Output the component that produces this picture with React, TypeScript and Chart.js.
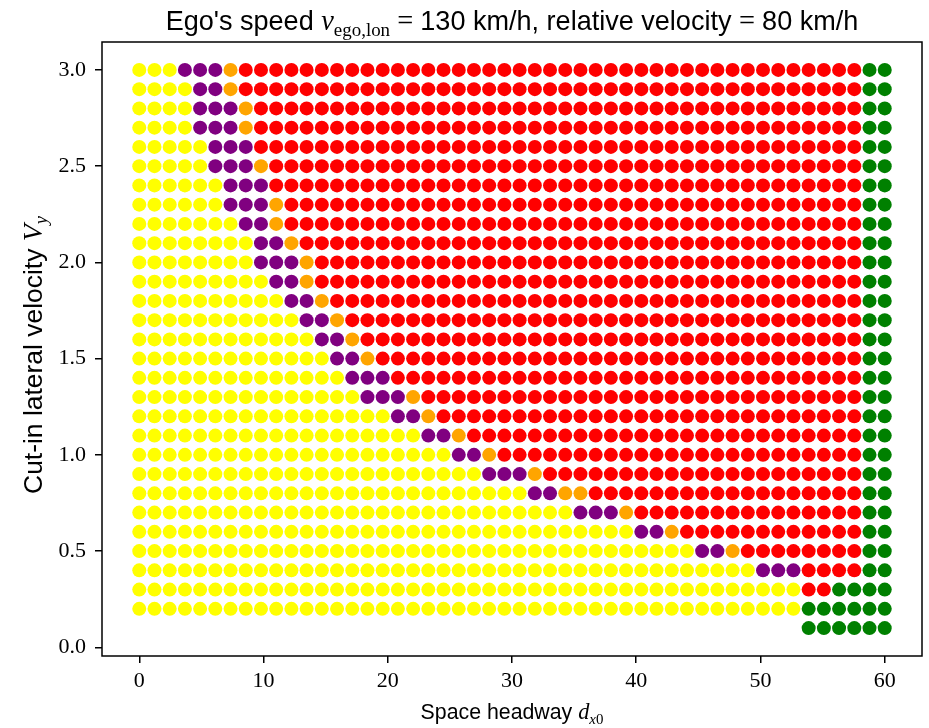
import React, { useEffect, useRef } from "react";
import { Chart, registerables } from "chart.js";

Chart.register(...registerables);

// Grid of space headway values (columns), d_x0
const xGrid = [
  0, 1.224, 2.449, 3.673, 4.898, 6.122, 7.347, 8.571, 9.796, 11.02,
  12.245, 13.469, 14.694, 15.918, 17.143, 18.367, 19.592, 20.816, 22.041, 23.265,
  24.49, 25.714, 26.939, 28.163, 29.388, 30.612, 31.837, 33.061, 34.286, 35.51,
  36.735, 37.959, 39.184, 40.408, 41.633, 42.857, 44.082, 45.306, 46.531, 47.755,
  48.98, 50.204, 51.429, 52.653, 53.878, 55.102, 56.327, 57.551, 58.776, 60,
];

// Cut-in lateral velocity rows, top to bottom
const yRows = [
  3.0, 2.9, 2.8, 2.7, 2.6, 2.5, 2.4, 2.3, 2.2, 2.1,
  2.0, 1.9, 1.8, 1.7, 1.6, 1.5, 1.4, 1.3, 1.2, 1.1,
  1.0, 0.9, 0.8, 0.7, 0.6, 0.5, 0.4, 0.3, 0.2, 0.1,
];

// Per row: number of points of each outcome, left to right
const nBlank = [
  0, 0, 0, 0, 0, 0, 0, 0, 0, 0,
  0, 0, 0, 0, 0, 0, 0, 0, 0, 0,
  0, 0, 0, 0, 0, 0, 0, 0, 0, 44,
];
const nYellow = [
  3, 4, 4, 4, 5, 5, 6, 6, 7, 8,
  8, 9, 10, 11, 12, 13, 14, 15, 17, 19,
  21, 23, 26, 29, 33, 37, 41, 44, 44, 0,
];
const nPurple = [
  3, 2, 3, 3, 3, 3, 3, 3, 2, 2,
  3, 2, 2, 2, 2, 2, 3, 3, 2, 2,
  2, 3, 2, 3, 2, 2, 3, 0, 0, 0,
];
const nOrange = [
  1, 1, 1, 1, 0, 1, 0, 1, 1, 1,
  1, 1, 1, 1, 1, 1, 0, 1, 1, 1,
  1, 1, 2, 1, 1, 1, 0, 0, 0, 0,
];
const nRed = [
  41, 41, 40, 40, 40, 39, 39, 38, 38, 37,
  36, 36, 35, 34, 33, 32, 31, 29, 28, 26,
  24, 21, 18, 15, 12, 8, 4, 2, 0, 0,
];
const nGreen = [
  2, 2, 2, 2, 2, 2, 2, 2, 2, 2,
  2, 2, 2, 2, 2, 2, 2, 2, 2, 2,
  2, 2, 2, 2, 2, 2, 2, 4, 6, 6,
];

const outcomeColors = ["#ffff00", "#800080", "#ffa500", "#ff0000", "#008000"];
const outcomeNames = ["yellow", "purple", "orange", "red", "green"];

const xTicks = [0, 10, 20, 30, 40, 50, 60];
const yTicks = [0.0, 0.5, 1.0, 1.5, 2.0, 2.5, 3.0];
const xLimits = [-3, 63];
const yLimits = [-0.045, 3.145];

const SANS = '"Liberation Sans", Arial, sans-serif';
const SERIF = '"Liberation Serif", "Times New Roman", serif';

type Seg = { t: string; kind: "sans" | "serif" | "ital"; sub?: boolean };

const titleSegs: Seg[] = [
  { t: "Ego's speed ", kind: "sans" },
  { t: "v", kind: "ital" },
  { t: "ego,lon", kind: "serif", sub: true },
  { t: " = ", kind: "serif" },
  { t: "130 km/h, relative velocity ", kind: "sans" },
  { t: "= ", kind: "serif" },
  { t: "80 km/h", kind: "sans" },
];
const xLabelSegs: Seg[] = [
  { t: "Space headway ", kind: "sans" },
  { t: "d", kind: "ital" },
  { t: "x", kind: "ital", sub: true },
  { t: "0", kind: "serif", sub: true },
];
const yLabelSegs: Seg[] = [
  { t: "Cut-in lateral velocity ", kind: "sans" },
  { t: "V", kind: "ital" },
  { t: "y", kind: "ital", sub: true },
];

function fontFor(s: Seg, size: number) {
  const sz = s.sub ? size * 0.7 : s.kind === "sans" ? size : size * 1.05;
  if (s.kind === "sans") return `${sz}px ${SANS}`;
  if (s.kind === "ital") return `italic ${sz}px ${SERIF}`;
  return `${sz}px ${SERIF}`;
}

function measure(ctx: CanvasRenderingContext2D, segs: Seg[], size: number) {
  let w = 0;
  for (const s of segs) {
    ctx.font = fontFor(s, size);
    w += ctx.measureText(s.t).width;
  }
  return w;
}

// Draw rich text centered at (cx, baseline), fitting to a target width
function drawRich(
  ctx: CanvasRenderingContext2D,
  segs: Seg[],
  cx: number,
  baseline: number,
  targetWidth: number
) {
  const w20 = measure(ctx, segs, 20);
  const size = (20 * targetWidth) / w20;
  const total = measure(ctx, segs, size);
  let x = cx - total / 2;
  ctx.fillStyle = "#000";
  ctx.textBaseline = "alphabetic";
  ctx.textAlign = "left";
  for (const s of segs) {
    ctx.font = fontFor(s, size);
    const dy = s.sub ? size * 0.22 : 0;
    ctx.fillText(s.t, x, baseline + dy);
    x += ctx.measureText(s.t).width;
  }
}

const framePlugin = {
  id: "frameAndLabels",
  afterDraw(chart: any) {
    const ctx: CanvasRenderingContext2D = chart.ctx;
    const a = chart.chartArea;
    ctx.save();
    ctx.strokeStyle = "#000";
    ctx.lineWidth = 1.5;
    ctx.strokeRect(a.left, a.top, a.right - a.left, a.bottom - a.top);
    const cx = (a.left + a.right) / 2;
    drawRich(ctx, titleSegs, cx, 30, 693);
    drawRich(ctx, xLabelSegs, cx, 719, 183);
    ctx.translate(41.5, 355);
    ctx.rotate(-Math.PI / 2);
    drawRich(ctx, yLabelSegs, 0, 0, 278);
    ctx.restore();
  },
};

export default function App() {
  const canvasRef = useRef<HTMLCanvasElement | null>(null);

  useEffect(() => {
    document.body.style.margin = "0";
    const canvas = canvasRef.current;
    if (!canvas) return;

    const pts: { x: number; y: number }[][] = outcomeColors.map(() => []);
    const groups = [nYellow, nPurple, nOrange, nRed, nGreen];
    yRows.forEach((y, r) => {
      let c = nBlank[r];
      groups.forEach((g, k) => {
        for (let i = 0; i < g[r]; i++) {
          pts[k].push({ x: xGrid[c], y });
          c++;
        }
      });
    });

    const datasets = outcomeColors.map((col, k) => ({
      label: outcomeNames[k],
      data: pts[k],
      backgroundColor: col,
      borderColor: col,
      pointRadius: 7,
      pointBorderWidth: 0,
      pointHoverRadius: 7,
    }));

    const tickFont = { family: SERIF, size: 22 };

    const chart = new Chart(canvas, {
      type: "scatter",
      data: { datasets },
      plugins: [framePlugin],
      options: {
        animation: false,
        responsive: true,
        maintainAspectRatio: false,
        layout: { padding: { top: 42, right: 3, left: 0, bottom: 0 } },
        plugins: {
          legend: { display: false },
          tooltip: { enabled: false },
          title: { display: false },
        },
        scales: {
          x: {
            type: "linear",
            min: xLimits[0],
            max: xLimits[1],
            afterBuildTicks: (scale: any) => {
              scale.ticks = xTicks.map((v) => ({ value: v }));
            },
            afterFit: (scale: any) => {
              scale.height = 72;
            },
            ticks: {
              font: tickFont,
              color: "#000",
              padding: 5,
              maxRotation: 0,
              autoSkip: false,
              callback: (v: any) => String(v),
            },
            grid: {
              display: true,
              drawOnChartArea: false,
              drawTicks: true,
              tickLength: 7,
              color: "#000",
              lineWidth: 1.5,
            },
            border: { display: false },
          },
          y: {
            type: "linear",
            min: yLimits[0],
            max: yLimits[1],
            afterBuildTicks: (scale: any) => {
              scale.ticks = yTicks.map((v) => ({ value: v }));
            },
            afterFit: (scale: any) => {
              scale.width = 102;
            },
            ticks: {
              font: tickFont,
              color: "#000",
              padding: 9,
              autoSkip: false,
              callback: (v: any) => Number(v).toFixed(1),
            },
            grid: {
              display: true,
              drawOnChartArea: false,
              drawTicks: true,
              tickLength: 7,
              color: "#000",
              lineWidth: 1.5,
            },
            border: { display: false },
          },
        },
      },
    } as any);

    return () => {
      chart.destroy();
    };
  }, []);

  return (
    <div style={{ position: "absolute", left: 0, top: 0, width: 929, height: 728 }}>
      <canvas ref={canvasRef} />
    </div>
  );
}
